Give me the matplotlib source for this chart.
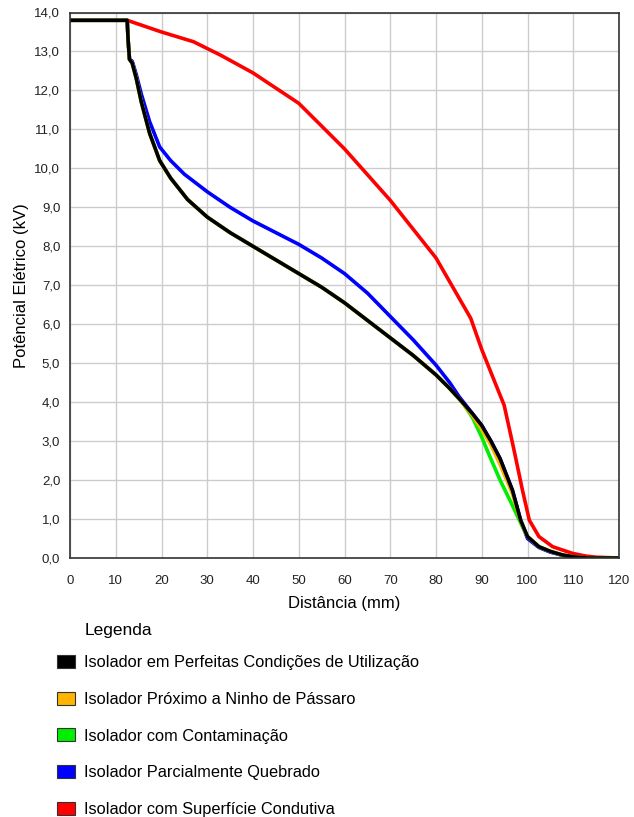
#!/usr/bin/env python
import matplotlib
matplotlib.use('Agg')
import matplotlib.pyplot as plt
from matplotlib.patches import Patch

plt.rcParams['font.family'] = ['Liberation Sans', 'DejaVu Sans']

# distance (mm) and potential (kV)
x_perfeito = [0, 12.5, 12.7, 13.0, 13.6, 14.5, 15.6, 17.4, 19.6, 22, 25.7, 30, 35, 40, 45, 50, 55, 60, 65, 70,
              75, 80, 83, 85, 88, 90, 92, 94, 96.7, 98.5, 100, 102.5, 105, 107.6, 110, 113, 120]
y_perfeito = [13.8, 13.8, 13.3, 12.8, 12.7, 12.3, 11.7, 10.9, 10.2, 9.75, 9.2, 8.75, 8.35, 8.0, 7.65, 7.3, 6.95,
              6.55, 6.1, 5.65, 5.2, 4.7, 4.35, 4.1, 3.7, 3.4, 3.0, 2.55, 1.74, 0.97, 0.55, 0.29, 0.17, 0.08,
              0.03, 0.0, 0.0]

x_ninho = [0, 12.5, 12.7, 13.0, 13.6, 14.5, 15.6, 17.4, 19.6, 22, 25.7, 30, 35, 40, 45, 50, 55, 60, 65, 70,
           75, 80, 83, 85, 88, 90, 92, 94, 96.7, 98.5, 100, 102.5, 105, 107.6, 110, 113, 120]
y_ninho = [13.8, 13.8, 13.3, 12.8, 12.7, 12.3, 11.7, 10.9, 10.2, 9.75, 9.2, 8.75, 8.35, 8.0, 7.65, 7.3, 6.95,
           6.55, 6.1, 5.65, 5.2, 4.7, 4.35, 4.1, 3.65, 3.3, 2.9, 2.4, 1.65, 0.95, 0.55, 0.29, 0.17, 0.08,
           0.03, 0.0, 0.0]

x_contam = [0, 12.5, 12.7, 13.0, 13.6, 14.5, 15.6, 17.4, 19.6, 22, 25.7, 30, 35, 40, 45, 50, 55, 60, 65, 70,
            75, 80, 83, 86, 88, 90, 91.6, 94, 96.7, 98.9, 100, 102.5, 105, 107.6, 110, 113, 120]
y_contam = [13.8, 13.8, 13.3, 12.8, 12.7, 12.3, 11.7, 10.9, 10.2, 9.75, 9.2, 8.75, 8.35, 8.0, 7.65, 7.3, 6.95,
            6.55, 6.1, 5.65, 5.2, 4.7, 4.35, 3.95, 3.6, 3.1, 2.65, 2.0, 1.35, 0.8, 0.55, 0.29, 0.17, 0.08,
            0.03, 0.0, 0.0]

x_quebrado = [0, 12.5, 12.7, 13.0, 13.6, 14.5, 15.6, 17.4, 19.6, 22, 25, 30, 35, 40, 45, 50, 55, 60, 65, 70,
              75, 80, 83, 85, 87, 90, 92, 94, 96.7, 98.5, 100, 102.5, 105, 107.6, 110, 113, 120]
y_quebrado = [13.8, 13.8, 13.3, 12.8, 12.75, 12.4, 11.9, 11.2, 10.55, 10.2, 9.85, 9.4, 9.0, 8.65, 8.35, 8.05,
              7.7, 7.3, 6.8, 6.2, 5.6, 4.95, 4.5, 4.15, 3.85, 3.4, 3.0, 2.55, 1.74, 0.97, 0.5, 0.27, 0.15,
              0.07, 0.03, 0.0, 0.0]

x_condutiva = [12.5, 20, 27, 33, 40, 50, 60, 70, 80, 87.6, 90, 92.7, 94.9, 97, 98.9, 100.4, 102.5, 105.5,
               109.8, 112.7, 115, 120]
y_condutiva = [13.8, 13.5, 13.25, 12.9, 12.45, 11.67, 10.5, 9.18, 7.7, 6.15, 5.35, 4.56, 3.92, 2.8, 1.74, 0.97,
               0.55, 0.29, 0.12, 0.05, 0.02, 0.0]

labels = ['Isolador em Perfeitas Condições de Utilização',
          'Isolador Próximo a Ninho de Pássaro',
          'Isolador com Contaminação',
          'Isolador Parcialmente Quebrado',
          'Isolador com Superfície Condutiva']
cores = ['#000000', '#ffb400', '#00ee00', '#0000ff', '#ff0000']

fig = plt.figure(figsize=(6.34, 8.17), dpi=100)
ax = fig.add_axes([70/634, 1-558/817, 549/634, 545.5/817])

lw = 2.6
ax.plot(x_condutiva, y_condutiva, color=cores[4], lw=lw)
ax.plot(x_quebrado, y_quebrado, color=cores[3], lw=lw)
ax.plot(x_contam, y_contam, color=cores[2], lw=lw)
ax.plot(x_ninho, y_ninho, color=cores[1], lw=lw)
ax.plot(x_perfeito, y_perfeito, color=cores[0], lw=lw)

ax.set_xlim(0, 120)
ax.set_ylim(0, 14)
ax.set_xticks(range(0, 121, 10))
ax.set_yticks(range(0, 15))
ax.set_yticklabels(['{:.1f}'.format(v).replace('.', ',') for v in range(0, 15)])
ax.grid(True, color='#cccccc', lw=1)
ax.set_axisbelow(True)
ax.tick_params(length=0, labelsize=9.5, colors='#222222')
ax.tick_params(axis='x', pad=12)
ax.tick_params(axis='y', pad=7)
for s in ax.spines.values():
    s.set_color('#333333')
    s.set_linewidth(1.2)
ax.set_xlabel('Distância (mm)', fontsize=12, labelpad=7)
ax.set_ylabel('Potêncial Elétrico (kV)', fontsize=12, labelpad=4)

fig.text(85/634, 1-630/817, 'Legenda', fontsize=12.5, va='center', ha='left')
handles = [Patch(facecolor=c, edgecolor='#333333', lw=0.8) for c in cores]
leg = fig.legend(handles, labels, loc='upper left', bbox_to_anchor=(57/634, 1-655/817),
                 frameon=False, fontsize=11.8, borderaxespad=0, borderpad=0,
                 labelspacing=1.31, handlelength=1.1, handleheight=0.85, handletextpad=0.55)

plt.savefig('out.png')
